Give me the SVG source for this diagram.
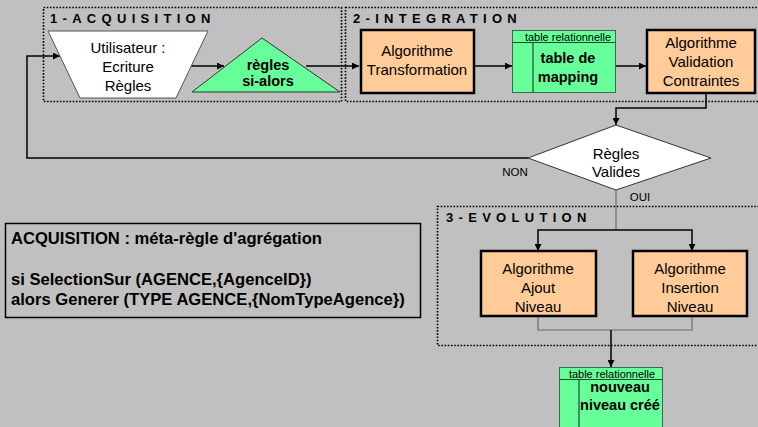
<svg xmlns="http://www.w3.org/2000/svg" width="758" height="427" viewBox="0 0 758 427">
  <style>
    text { font-family: "Liberation Sans", Arial, sans-serif; fill: #000; }
    .zone { fill: none; stroke: #000; stroke-width: 1.6; stroke-dasharray: 1.6 1.6; }
    .title { font-size: 13px; font-weight: bold; letter-spacing: 5.3px; }
    .algo { fill: #ffcc99; stroke: #000; stroke-width: 2.5; }
    .lbl { font-size: 15px; text-anchor: middle; }
    .bold { font-weight: bold; font-size: 14.5px; }
    .tbl { fill: #66ff99; stroke: #3a6a4a; stroke-width: 1; }
    .tline { stroke: #1f4a2a; stroke-width: 1.2; }
    .small { font-size: 11px; text-anchor: middle; }
    .wire { fill: none; stroke: #000; stroke-width: 1.5; }
    .wire-gray { fill: none; stroke: #6a6a6a; stroke-width: 1.2; }
    .code { font-size: 16.6px; font-weight: bold; }
  </style>
  <defs>
    <marker id="arrow" viewBox="0 0 10 10" refX="10" refY="5" markerWidth="7" markerHeight="7" orient="auto" markerUnits="userSpaceOnUse">
      <path d="M0,0 L10,5 L0,10 z" fill="#000"/>
    </marker>
  </defs>

  <rect x="0" y="0" width="758" height="427" fill="#c0c0c0"/>

  <!-- process zones -->
  <g id="zone-acquisition">
    <rect class="zone" x="43.5" y="7.5" width="298" height="94"/>
    <text class="title" x="50" y="23">1-ACQUISITION</text>
  </g>
  <g id="zone-integration">
    <rect class="zone" x="345.5" y="7.5" width="420" height="94"/>
    <text class="title" x="353" y="23">2-INTEGRATION</text>
  </g>
  <g id="zone-evolution">
    <rect class="zone" x="437.5" y="206.5" width="330" height="139"/>
    <text class="title" x="446" y="222">3-EVOLUTION</text>
  </g>

  <!-- connectors -->
  <g id="connectors">
    <line class="wire" x1="172" y1="66" x2="224" y2="66" marker-end="url(#arrow)"/>
    <line class="wire" x1="306" y1="66" x2="359" y2="66" marker-end="url(#arrow)"/>
    <line class="wire" x1="474" y1="66" x2="512" y2="66" marker-end="url(#arrow)"/>
    <line class="wire" x1="607" y1="66" x2="646" y2="66" marker-end="url(#arrow)"/>
    <polyline class="wire" points="706,94 706,108 616,108 616,125" marker-end="url(#arrow)"/>
    <polyline class="wire" points="528,158 27,158 27,56 60,56" marker-end="url(#arrow)"/>
    <line class="wire-gray" x1="616" y1="190" x2="616" y2="230"/>
    <polyline class="wire" points="616,230 538,230 538,251" marker-end="url(#arrow)"/>
    <polyline class="wire" points="616,230 692,230 692,251" marker-end="url(#arrow)"/>
    <polyline class="wire-gray" points="538,316 538,330 692,330 692,316"/>
    <line class="wire" x1="611" y1="330" x2="611" y2="367" marker-end="url(#arrow)"/>
    <text x="515" y="176" font-size="11.5" text-anchor="middle">NON</text>
    <text x="640" y="201" font-size="11.5" text-anchor="middle">OUI</text>
  </g>

  <!-- nodes -->
  <g id="utilisateur">
    <polygon points="48,31 208,31 176,98 80,98" fill="#fff" stroke="#555" stroke-width="1"/>
    <text class="lbl" x="128" y="53">Utilisateur :</text>
    <text class="lbl" x="128" y="72">Ecriture</text>
    <text class="lbl" x="128" y="91">Règles</text>
  </g>
  <g id="regles-si-alors">
    <polygon points="262,38 340,92 192,92" fill="#66ff99" stroke="#333" stroke-width="1"/>
    <text class="lbl bold" x="268" y="70">règles</text>
    <text class="lbl bold" x="268" y="86">si-alors</text>
  </g>
  <g id="algo-transformation">
    <rect class="algo" x="361" y="30" width="113" height="63"/>
    <text class="lbl" x="417" y="56">Algorithme</text>
    <text class="lbl" x="417" y="75">Transformation</text>
  </g>
  <g id="table-mapping">
    <rect class="tbl" x="512.5" y="30.5" width="103" height="62"/>
    <line class="tline" x1="512.5" y1="42.5" x2="615.5" y2="42.5"/>
    <line class="tline" x1="533" y1="42.5" x2="533" y2="92.5"/>
    <text class="small" x="568" y="40.5">table relationnelle</text>
    <text class="lbl bold" x="568" y="63">table de</text>
    <text class="lbl bold" x="568" y="82">mapping</text>
  </g>
  <g id="algo-validation">
    <rect class="algo" x="647" y="30" width="108" height="63"/>
    <text class="lbl" x="701" y="48">Algorithme</text>
    <text class="lbl" x="701" y="67">Validation</text>
    <text class="lbl" x="701" y="86">Contraintes</text>
  </g>
  <g id="regles-valides">
    <polygon points="616,125 711,158 616,190 528,158" fill="#fff" stroke="#333" stroke-width="1"/>
    <text class="lbl" x="616" y="159">Règles</text>
    <text class="lbl" x="616" y="177">Valides</text>
  </g>
  <g id="algo-ajout">
    <rect class="algo" x="481" y="251" width="115" height="65"/>
    <text class="lbl" x="538" y="274">Algorithme</text>
    <text class="lbl" x="538" y="293">Ajout</text>
    <text class="lbl" x="538" y="312">Niveau</text>
  </g>
  <g id="algo-insertion">
    <rect class="algo" x="633" y="251" width="114" height="65"/>
    <text class="lbl" x="690" y="274">Algorithme</text>
    <text class="lbl" x="690" y="293">Insertion</text>
    <text class="lbl" x="690" y="312">Niveau</text>
  </g>
  <g id="table-nouveau-niveau">
    <rect class="tbl" x="559.5" y="367.5" width="103" height="70"/>
    <line class="tline" x1="559.5" y1="379.5" x2="662.5" y2="379.5"/>
    <line class="tline" x1="579" y1="379.5" x2="579" y2="437"/>
    <text class="small" x="612" y="377.5">table relationnelle</text>
    <text class="lbl bold" x="620" y="392">nouveau</text>
    <text class="lbl bold" x="620" y="410">niveau créé</text>
  </g>
  <g id="meta-regle">
    <rect x="5.5" y="223.5" width="415" height="94" fill="none" stroke="#000" stroke-width="1.5"/>
    <text class="code" x="11" y="244">ACQUISITION : méta-règle d'agrégation</text>
    <text class="code" x="11" y="285">si SelectionSur (AGENCE,{AgenceID})</text>
    <text class="code" x="11" y="305">alors Generer (TYPE AGENCE,{NomTypeAgence})</text>
  </g>
</svg>
